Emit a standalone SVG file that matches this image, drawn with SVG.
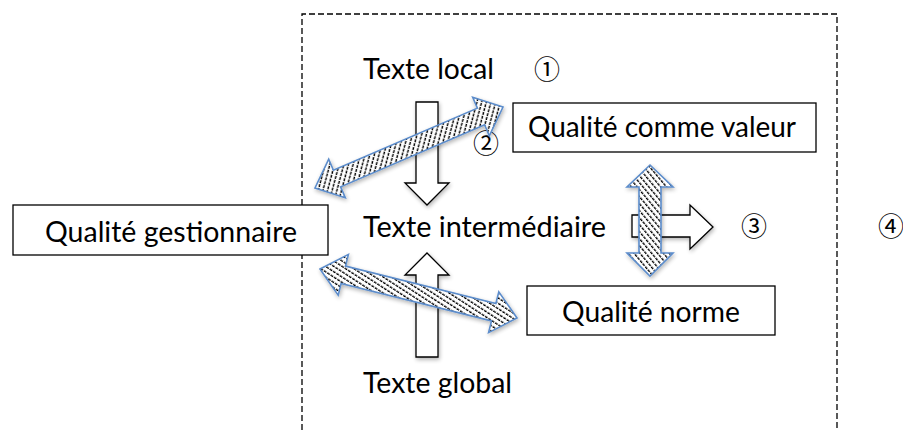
<svg xmlns="http://www.w3.org/2000/svg" width="903" height="430" viewBox="0 0 903 430">
  <style>
    .lbl { font-family: Lato, "Open Sans", "Liberation Sans", sans-serif; font-size: 29px; fill: #000; }
    .num { font-family: "Noto Sans CJK JP", "DejaVu Sans", sans-serif; font-size: 26px; fill: #000; text-anchor: middle; }
    .box { fill: #fff; stroke: #000; stroke-width: 1.3; }
    .frame { fill: none; stroke: #000; stroke-width: 1.3; stroke-dasharray: 6 3; }
    .plain { fill: #fff; stroke: #000; stroke-width: 1.3; stroke-linejoin: miter; }
    .hatched { stroke: #5b8ccb; stroke-width: 1.6; stroke-linejoin: miter; }
  </style>
  <defs>
    <filter id="shadow" x="-20%" y="-20%" width="140%" height="140%">
      <feGaussianBlur in="SourceAlpha" stdDeviation="2"/>
      <feOffset dx="1" dy="2" result="b"/>
      <feComponentTransfer><feFuncA type="linear" slope="0.3"/></feComponentTransfer>
      <feMerge><feMergeNode/><feMergeNode in="SourceGraphic"/></feMerge>
    </filter>
    <!-- dotted diagonal hatching, one orientation per arrow -->
    <pattern id="hatch-a" patternUnits="userSpaceOnUse" width="4.5" height="4" patternTransform="rotate(15)">
      <rect width="4.5" height="4" fill="#fff"/>
      <line x1="1.2" y1="0" x2="1.2" y2="4" stroke="#000" stroke-width="1.4" stroke-dasharray="2 1"/>
    </pattern>
    <pattern id="hatch-b" patternUnits="userSpaceOnUse" width="4" height="4.5" patternTransform="rotate(33)">
      <rect width="4" height="4.5" fill="#fff"/>
      <line x1="0" y1="1.2" x2="4" y2="1.2" stroke="#000" stroke-width="1.4" stroke-dasharray="2 1"/>
    </pattern>
    <pattern id="hatch-c" patternUnits="userSpaceOnUse" width="4" height="4.5" patternTransform="rotate(50)">
      <rect width="4" height="4.5" fill="#fff"/>
      <line x1="0" y1="1.2" x2="4" y2="1.2" stroke="#000" stroke-width="1.4" stroke-dasharray="2 1"/>
    </pattern>
  </defs>

  <rect width="903" height="430" fill="#fff"/>

  <!-- dashed frame, open at the bottom -->
  <path class="frame" d="M302,430 V14 H837 V430"/>

  <!-- plain labels -->
  <g id="texte-local"><text class="lbl" x="363" y="79" textLength="131" lengthAdjust="spacingAndGlyphs">Texte local</text></g>
  <g id="texte-intermediaire"><text class="lbl" x="363" y="237" textLength="243" lengthAdjust="spacingAndGlyphs">Texte intermédiaire</text></g>
  <g id="texte-global"><text class="lbl" x="363" y="393" textLength="149" lengthAdjust="spacingAndGlyphs">Texte global</text></g>

  <!-- boxed nodes -->
  <g id="qualite-comme-valeur">
    <rect class="box" x="513" y="103" width="303" height="49"/>
    <text class="lbl" x="528" y="137" textLength="268" lengthAdjust="spacingAndGlyphs">Qualité comme valeur</text>
  </g>
  <g id="qualite-gestionnaire">
    <rect class="box" x="13" y="205" width="315" height="50"/>
    <text class="lbl" x="45" y="242" textLength="252" lengthAdjust="spacingAndGlyphs">Qualité gestionnaire</text>
  </g>
  <g id="qualite-norme">
    <rect class="box" x="527" y="286" width="248" height="49"/>
    <text class="lbl" x="562" y="322" textLength="178" lengthAdjust="spacingAndGlyphs">Qualité norme</text>
  </g>

  <!-- circled numbers -->
  <g id="num-1"><text class="num" x="547" y="79">①</text></g>
  <g id="num-2"><text class="num" x="486" y="153">②</text></g>
  <g id="num-3"><text class="num" x="754" y="236">③</text></g>
  <g id="num-4"><text class="num" x="891" y="236">④</text></g>

  <!-- connectors -->
  <g id="connectors">
    <!-- block arrows: local down, global up, intermediate right -->
    <polygon class="plain" filter="url(#shadow)" points="416,102 438,102 438,183 449,183 427,205 405,183 416,183"/>
    <polygon class="plain" filter="url(#shadow)" points="427,253 449,275 438,275 438,357 416,357 416,275 405,275"/>
    <polygon class="plain" filter="url(#shadow)" points="632,215 690,215 690,205 713,227 690,249 690,237 632,237"/>

    <!-- hatched double arrows -->
    <polygon class="hatched" fill="url(#hatch-a)" filter="url(#shadow)"
      points="503,107 472.7,97.2 477.4,108.2 333.4,170.2 328.7,159.2 315,188 345.3,197.8 340.6,186.8 484.6,124.8 489.3,135.8"/>
    <polygon class="hatched" fill="url(#hatch-b)" filter="url(#shadow)"
      points="320,269 348.4,254.4 345.5,266.1 495.9,303.5 498.8,291.8 517,318 488.6,332.6 491.5,320.9 341.1,283.5 338.2,295.2"/>
    <polygon class="hatched" fill="url(#hatch-c)" filter="url(#shadow)"
      points="650,165 673,187 661,187 661,253 673,253 650,276 627,253 639,253 639,187 627,187"/>
  </g>
</svg>
